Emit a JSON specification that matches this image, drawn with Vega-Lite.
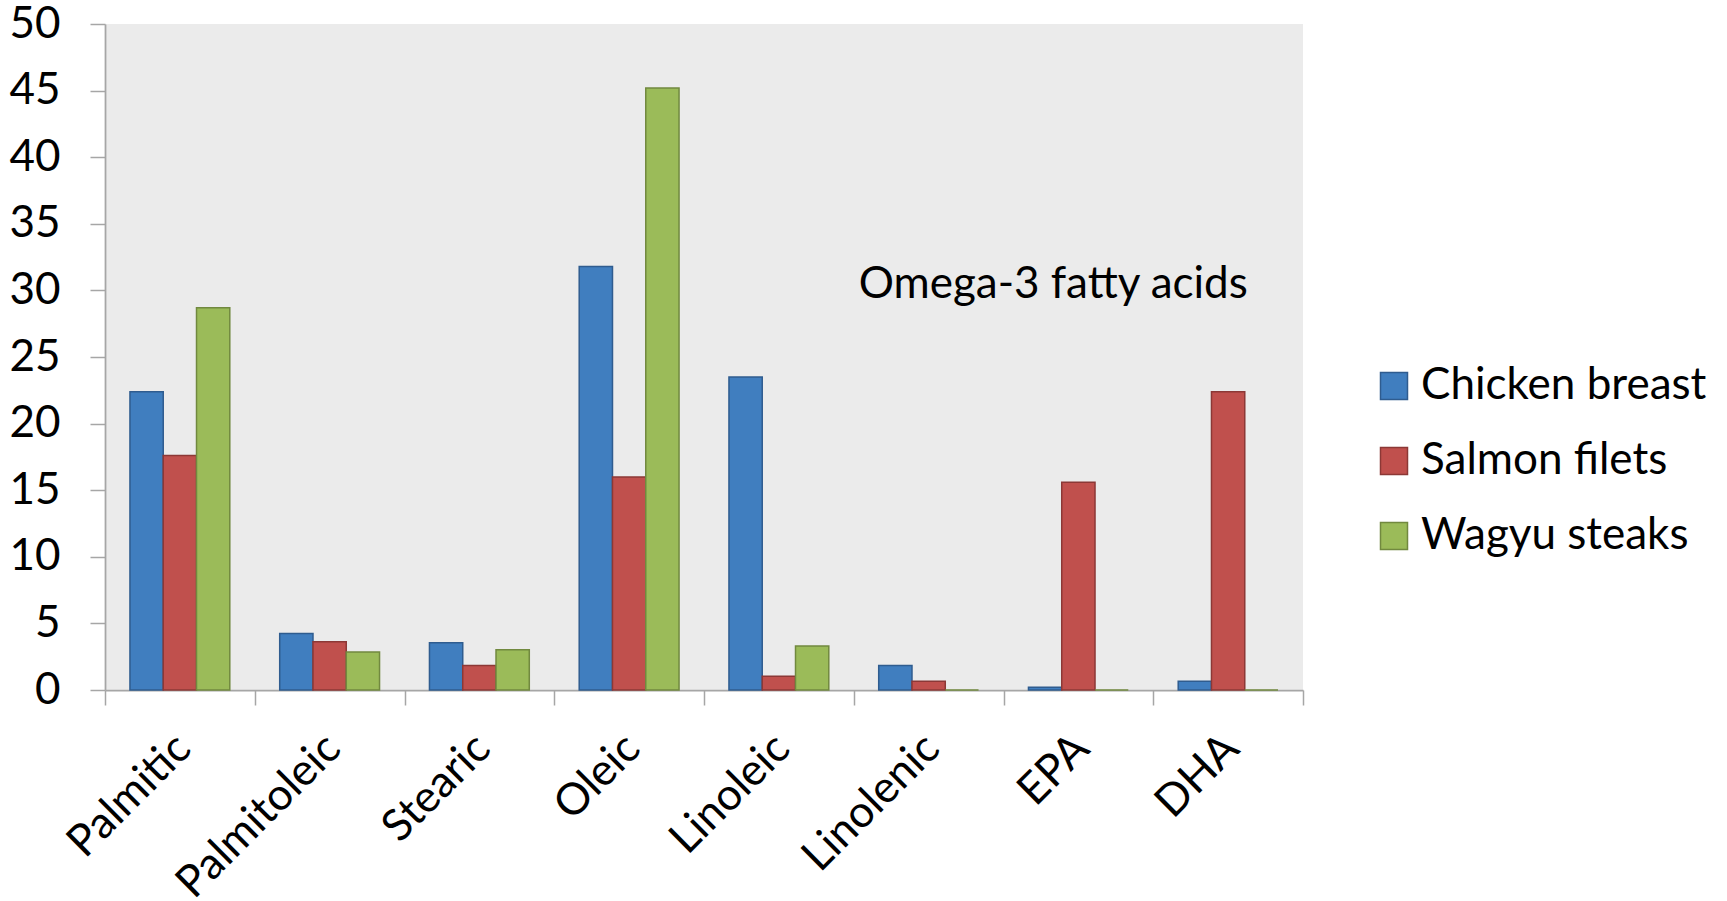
{
  "$schema": "https://vega.github.io/schema/vega-lite/v6.json",
  "width": 1198,
  "height": 666,
  "autosize": {"type": "none"},
  "padding": {"left": 105, "top": 24, "right": 424, "bottom": 211},
  "background": "white",
  "config": {
    "font": "Lato",
    "view": {"fill": "#EBEBEB", "stroke": null},
    "axis": {
      "domainColor": "#A6A6A6",
      "domainWidth": 1.75,
      "tickColor": "#A6A6A6",
      "tickWidth": 1.5,
      "tickSize": 15,
      "labelColor": "black",
      "labelFont": "Lato",
      "labelFontSize": 44,
      "labelLimit": 0,
      "grid": false,
      "title": null
    },
    "legend": {"labelLimit": 0}
  },
  "data": {
    "values": [
      {"acid": "Palmitic", "food": "Chicken breast", "value": 22.4},
      {"acid": "Palmitic", "food": "Salmon filets", "value": 17.6},
      {"acid": "Palmitic", "food": "Wagyu steaks", "value": 28.7},
      {"acid": "Palmitoleic", "food": "Chicken breast", "value": 4.25},
      {"acid": "Palmitoleic", "food": "Salmon filets", "value": 3.63},
      {"acid": "Palmitoleic", "food": "Wagyu steaks", "value": 2.85},
      {"acid": "Stearic", "food": "Chicken breast", "value": 3.55},
      {"acid": "Stearic", "food": "Salmon filets", "value": 1.83},
      {"acid": "Stearic", "food": "Wagyu steaks", "value": 3.03},
      {"acid": "Oleic", "food": "Chicken breast", "value": 31.8},
      {"acid": "Oleic", "food": "Salmon filets", "value": 16.0},
      {"acid": "Oleic", "food": "Wagyu steaks", "value": 45.2},
      {"acid": "Linoleic", "food": "Chicken breast", "value": 23.5},
      {"acid": "Linoleic", "food": "Salmon filets", "value": 1.03},
      {"acid": "Linoleic", "food": "Wagyu steaks", "value": 3.3},
      {"acid": "Linolenic", "food": "Chicken breast", "value": 1.83},
      {"acid": "Linolenic", "food": "Salmon filets", "value": 0.65},
      {"acid": "Linolenic", "food": "Wagyu steaks", "value": 0},
      {"acid": "EPA", "food": "Chicken breast", "value": 0.2},
      {"acid": "EPA", "food": "Salmon filets", "value": 15.6},
      {"acid": "EPA", "food": "Wagyu steaks", "value": 0},
      {"acid": "DHA", "food": "Chicken breast", "value": 0.65},
      {"acid": "DHA", "food": "Salmon filets", "value": 22.4},
      {"acid": "DHA", "food": "Wagyu steaks", "value": 0}
    ]
  },
  "layer": [
    {
      "mark": {"type": "bar", "strokeWidth": 1.5},
      "encoding": {
        "x": {
          "field": "acid",
          "type": "nominal",
          "scale": {
            "domain": ["Palmitic", "Palmitoleic", "Stearic", "Oleic", "Linoleic", "Linolenic", "EPA", "DHA"],
            "paddingInner": 0,
            "paddingOuter": 0
          },
          "axis": {"labelAngle": -45, "tickBand": "extent", "labelPadding": 21, "labelOffset": -12}
        },
        "xOffset": {
          "field": "food",
          "type": "nominal",
          "scale": {
            "domain": ["Chicken breast", "Salmon filets", "Wagyu steaks"],
            "paddingInner": 0,
            "paddingOuter": 0.75
          }
        },
        "y": {
          "field": "value",
          "type": "quantitative",
          "scale": {"domain": [0, 50], "nice": false},
          "axis": {"values": [0, 5, 10, 15, 20, 25, 30, 35, 40, 45, 50], "labelPadding": 30}
        },
        "fill": {
          "field": "food",
          "type": "nominal",
          "scale": {
            "domain": ["Chicken breast", "Salmon filets", "Wagyu steaks"],
            "range": ["#407EBF", "#C0504D", "#9BBB59"]
          },
          "legend": {
            "orient": "none",
            "legendX": 1267,
            "legendY": 340,
            "title": null,
            "padding": 0,
            "labelFont": "Lato",
            "labelFontSize": 44,
            "labelColor": "black",
            "labelOffset": 5,
            "labelLimit": 0,
            "symbolType": "square",
            "symbolSize": 729,
            "symbolStrokeWidth": 1.5,
            "rowPadding": 31
          }
        },
        "stroke": {
          "field": "food",
          "type": "nominal",
          "scale": {
            "domain": ["Chicken breast", "Salmon filets", "Wagyu steaks"],
            "range": ["#2F5C8F", "#8C3836", "#71893F"]
          },
          "legend": {
            "orient": "none",
            "legendX": 1267,
            "legendY": 340,
            "title": null,
            "padding": 0,
            "labelFont": "Lato",
            "labelFontSize": 44,
            "labelColor": "black",
            "labelOffset": 5,
            "labelLimit": 0,
            "symbolType": "square",
            "symbolSize": 729,
            "symbolStrokeWidth": 1.5,
            "rowPadding": 31
          }
        }
      }
    },
    {
      "data": {"values": [{"note": "Omega-3 fatty acids"}]},
      "mark": {"type": "text", "align": "left", "baseline": "middle", "fontSize": 44, "font": "Lato", "color": "black", "dx": 5},
      "encoding": {
        "x": {"datum": "Linolenic", "bandPosition": 0},
        "y": {"datum": 30.43},
        "text": {"field": "note"}
      }
    }
  ]
}
